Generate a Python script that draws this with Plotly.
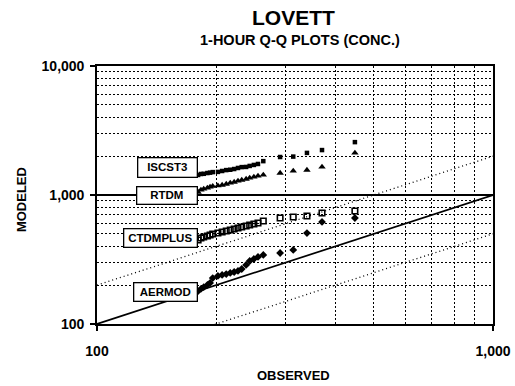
import numpy as np
import plotly.graph_objects as go

# ---- data ----
observed = [180, 183, 186, 190, 193, 196, 202, 207, 212, 217, 222, 227, 232, 238,
            243, 249, 255, 263, 290, 313, 339, 370, 448]
iscst3 = [1430, 1455, 1460, 1480, 1490, 1505, 1510, 1535, 1560, 1570, 1590, 1620,
          1645, 1650, 1680, 1710, 1740, 1830, 1970, 1985, 2120, 2230, 2570]
rtdm = [1055, 1095, 1115, 1135, 1155, 1170, 1180, 1195, 1215, 1240, 1260, 1285,
        1305, 1330, 1355, 1380, 1405, 1430, 1480, 1535, 1560, 1650, 2120]
ctdmplus = [448, 464, 472, 481, 490, 498, 507, 517, 526, 535, 545, 555, 565, 575,
            585, 596, 607, 629, 663, 675, 687, 725, 752]
aermod = [180, 187, 193, 201, 208, 227, 236, 240, 244, 249, 253, 258, 267, 287,
          308, 319, 331, 343, 355, 375, 507, 618, 663]

ref_x = [100, 1000]
ref_factors = [1, 2, 0.5]

x_ticks = [100, 1000]
x_ticktext = ["100", "1,000"]
y_ticks = [100, 1000, 10000]
y_ticktext = ["100", "1,000", "10,000"]
x_minor = [200, 300, 400, 500, 600, 700, 800, 900]
y_minor = [200, 300, 400, 500, 600, 700, 800, 900,
           2000, 3000, 4000, 5000, 6000, 7000, 8000, 9000]

FONT = "Liberation Sans, Arial, sans-serif"

fig = go.Figure()

# reference lines
for f in ref_factors:
    fig.add_trace(go.Scatter(
        x=ref_x, y=[v * f for v in ref_x], mode="lines",
        line=dict(color="black", width=1.7 if f == 1 else 1.3,
                  dash="solid" if f == 1 else "1px,3px"),
        hoverinfo="skip", showlegend=False))

series = [
    ("ISCST3", iscst3, dict(symbol="square", size=4.5, color="black")),
    ("RTDM", rtdm, dict(symbol="triangle-up", size=6.5, color="black")),
    ("CTDMPLUS", ctdmplus, dict(symbol="square-open", size=5.5, color="black",
                                line=dict(width=1.6, color="black"))),
    ("AERMOD", aermod, dict(symbol="diamond", size=6, color="black")),
]
for name, vals, mk in series:
    fig.add_trace(go.Scatter(x=observed, y=vals, mode="markers", name=name,
                             marker=mk, showlegend=False))

# label boxes
label_specs = [
    ("ISCST3", iscst3, -31, -7, 56, 16),
    ("RTDM", rtdm, -31, 3, 57, 14),
    ("CTDMPLUS", ctdmplus, -38, -2, 70, 15),
    ("AERMOD", aermod, -33, 1, 60, 15),
]
for name, vals, ax, ay, w, h in label_specs:
    fig.add_annotation(
        x=np.log10(observed[0]), y=np.log10(vals[0]), xref="x", yref="y",
        text=name, showarrow=True, arrowhead=0, arrowwidth=1.2, arrowcolor="black",
        ax=ax, ay=ay, width=w, height=h, bgcolor="white", bordercolor="black",
        borderwidth=1.3, borderpad=1,
        font=dict(family=FONT, size=11.5, color="black", weight="bold"))

# titles
fig.add_annotation(text="LOVETT", xref="paper", yref="paper", x=0.497, y=1.188,
                   showarrow=False, xanchor="center", yanchor="middle",
                   font=dict(family=FONT, size=21, color="black", weight="bold"))
fig.add_annotation(text="1-HOUR Q-Q PLOTS (CONC.)", xref="paper", yref="paper",
                   x=0.513, y=1.10, showarrow=False, xanchor="center", yanchor="middle",
                   font=dict(family=FONT, size=14.5, color="black", weight="bold"))
fig.add_annotation(text="MODELED", xref="paper", yref="paper", x=-0.192, y=0.484,
                   textangle=-90, showarrow=False, xanchor="center", yanchor="middle",
                   font=dict(family=FONT, size=13, color="black", weight="bold"))
fig.add_annotation(text="OBSERVED", xref="paper", yref="paper", x=0.497, y=-0.20,
                   showarrow=False, xanchor="center", yanchor="middle",
                   font=dict(family=FONT, size=13, color="black", weight="bold"))

grid_dot = "2px,2px"
fig.update_xaxes(
    type="log", range=[2, 3], tickvals=x_ticks, ticktext=x_ticktext,
    ticks="outside", ticklen=5, tickwidth=1.5, tickcolor="black",
    showline=True, linecolor="black", linewidth=1.6, mirror=True,
    showgrid=False, zeroline=False, ticklabelstandoff=8, automargin=False,
    ticklabeloverflow="allow",
    tickfont=dict(family=FONT, size=14, color="black", weight="bold"),
    minor=dict(tickvals=x_minor, showgrid=True, gridcolor="black",
               gridwidth=1.4, griddash=grid_dot, ticks=""))
fig.update_yaxes(
    type="log", range=[2, 4], tickvals=y_ticks, ticktext=y_ticktext,
    ticks="outside", ticklen=5, tickwidth=1.5, tickcolor="black",
    showline=True, linecolor="black", linewidth=1.6, mirror=True,
    showgrid=True, gridcolor="black", gridwidth=1.7, zeroline=False,
    ticklabelstandoff=3, automargin=False, ticklabeloverflow="allow",
    tickfont=dict(family=FONT, size=14, color="black", weight="bold"),
    minor=dict(tickvals=y_minor, showgrid=True, gridcolor="black",
               gridwidth=1.4, griddash=grid_dot, ticks=""))

fig.update_layout(width=515, height=386, margin=dict(l=97, r=22, t=66, b=62),
                  paper_bgcolor="white", plot_bgcolor="white", showlegend=False)

fig.write_html("out.html", config={"displayModeBar": False},
               post_script="document.body.style.margin='0';document.body.style.overflow='hidden';")
